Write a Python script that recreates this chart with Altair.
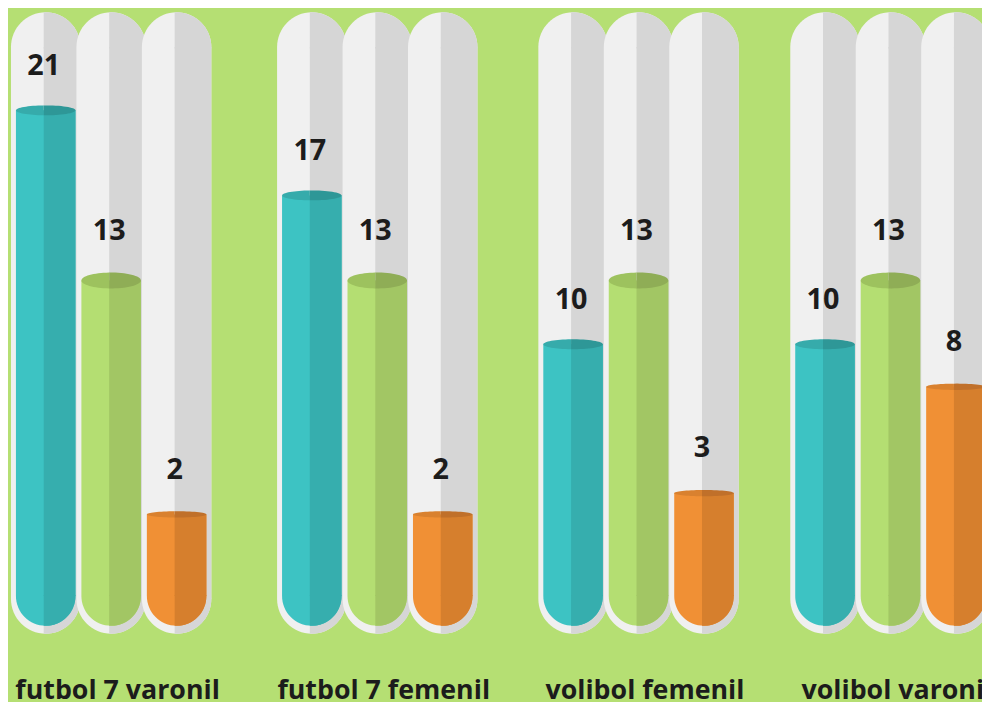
import json
import math

import altair as alt
import pandas as pd

# ---------------- data ----------------
CATEGORIES = ["futbol 7 varonil", "futbol 7 femenil", "volibol femenil", "volibol varonil"]
SERIES_1 = [21, 17, 10, 10]   # teal tubes
SERIES_2 = [13, 13, 13, 13]   # green tubes
SERIES_3 = [2, 2, 3, 8]       # orange tubes
SERIES = [SERIES_1, SERIES_2, SERIES_3]

rows = []
for j, vals in enumerate(SERIES):
    for gi, (cat, v) in enumerate(zip(CATEGORIES, vals)):
        rows.append({"categoria": cat, "gi": gi, "serie": j, "valor": v})
df = pd.DataFrame(rows)

# ---------------- style / layout ----------------
W, H = 982, 694
BG = "#b5df73"
TUBE_L, TUBE_D = "#f0f0f0", "#d6d6d6"
TXT = "#1c1c1c"
FONT = "Open Sans"
COLORS = [
    # light body, dark body, top light, top dark
    ("#3dc3c3", "#36aeae", "#36abab", "#2e9797"),
    ("#b4de72", "#a2c664", "#9dc25e", "#8fad56"),
    ("#f09035", "#d67f2d", "#d9812f", "#c0702a"),
]
TOP_HALF_H = [5.0, 8.0, 3.2]      # half height of the top ellipse, px
LABEL_DY = [-45, -50, -45]

GROUP_PX = [102, 370.3, 633.7, 887.7]
TUBE_STEP = 66
SHIFT = 2
TUBE_R = 35
BAR_R = 30

Y_DOMAIN = [-6.69, 25.68]
TUBE_TOP, TUBE_BOT, BAR_BASE = 25.61, -3.615, -3.242

X_SCALE = alt.Scale(domain=[0, 1, 2, 3], range=GROUP_PX, zero=False, nice=False)
Y_SCALE = alt.Scale(domain=Y_DOMAIN, zero=False, nice=False)
X_AXIS = alt.Axis(
    values=[0, 1, 2, 3],
    labelExpr=json.dumps(CATEGORIES) + "[datum.value]",
    domain=False, ticks=False, tickSize=0, grid=False, title=None,
    labelFont=FONT, labelFontSize=27, labelFontWeight="bold", labelColor=TXT,
    labelBaseline="alphabetic", labelPadding=-0.5, labelOffset=8,
    labelFlush=False, labelOverlap=False, labelBound=False, labelLimit=0,
)


def fmt(pts):
    return "M " + " L ".join(f"{x:.4f} {y:.4f}" for x, y in pts) + " Z"


def cap_top_right(s, n=28):
    a0 = math.acos(s)
    pts = [(s, 0.04)]
    for k in range(n + 1):
        t = a0 - a0 * k / n
        pts.append((math.cos(t), -math.sin(t)))
    pts.append((1, 0.04))
    return fmt(pts)


def cap_bottom_right(s, n=28):
    a0 = math.acos(s)
    pts = [(s, -0.04), (1, -0.04)]
    for k in range(n + 1):
        t = a0 * k / n
        pts.append((math.cos(t), math.sin(t)))
    return fmt(pts)


def ellipse_half(s, b, left, n=32):
    a0 = math.acos(s)
    if left:
        t0, t1 = a0, 2 * math.pi - a0
    else:
        t0, t1 = -a0, a0
    pts = []
    for k in range(n + 1):
        t = t0 + (t1 - t0) * k / n
        pts.append((math.cos(t), b * math.sin(t)))
    return fmt(pts)


TUBE_CAP_TOP = cap_top_right(-SHIFT / TUBE_R)
TUBE_CAP_BOT = cap_bottom_right(-SHIFT / TUBE_R)
BAR_CAP_BOT = cap_bottom_right(-SHIFT / BAR_R)


def layers_for(j):
    off = (j - 1) * TUBE_STEP + SHIFT
    split = (j - 1) * TUBE_STEP
    light, dark, top_l, top_d = COLORS[j]
    b = TOP_HALF_H[j] / BAR_R
    base = alt.Chart(df).transform_filter(alt.datum.serie == j)
    x = alt.X("gi:Q", scale=X_SCALE, axis=X_AXIS)
    x2 = alt.X2("gi")
    yv = alt.Y("valor:Q", scale=Y_SCALE, axis=None)

    def yd(v):
        return alt.YDatum(v, scale=Y_SCALE, axis=None)

    sym = dict(filled=True, opacity=1, strokeWidth=0)
    out = [
        base.mark_rect(color=TUBE_L, cornerRadius=TUBE_R,
                       xOffset=off - TUBE_R, x2Offset=off + TUBE_R)
        .encode(x=x, x2=x2, y=yd(TUBE_TOP), y2=alt.Y2Datum(TUBE_BOT)),
        base.mark_rect(color=TUBE_D, xOffset=split, x2Offset=off + TUBE_R,
                       yOffset=TUBE_R, y2Offset=-TUBE_R)
        .encode(x=x, x2=x2, y=yd(TUBE_TOP), y2=alt.Y2Datum(TUBE_BOT)),
        base.mark_point(shape=TUBE_CAP_TOP, size=(2 * TUBE_R) ** 2, color=TUBE_D,
                        xOffset=off, yOffset=TUBE_R, **sym)
        .encode(x=x, y=yd(TUBE_TOP)),
        base.mark_point(shape=TUBE_CAP_BOT, size=(2 * TUBE_R) ** 2, color=TUBE_D,
                        xOffset=off, yOffset=-TUBE_R, **sym)
        .encode(x=x, y=yd(TUBE_BOT)),
        base.mark_rect(color=light, cornerRadiusBottomLeft=BAR_R,
                       cornerRadiusBottomRight=BAR_R,
                       xOffset=off - BAR_R, x2Offset=off + BAR_R)
        .encode(x=x, x2=x2, y=yv, y2=alt.Y2Datum(BAR_BASE)),
        base.mark_rect(color=dark, xOffset=split, x2Offset=off + BAR_R,
                       y2Offset=-BAR_R)
        .encode(x=x, x2=x2, y=yv, y2=alt.Y2Datum(BAR_BASE)),
        base.mark_point(shape=BAR_CAP_BOT, size=(2 * BAR_R) ** 2, color=dark,
                        xOffset=off, yOffset=-BAR_R, **sym)
        .encode(x=x, y=yd(BAR_BASE)),
        base.mark_point(shape=ellipse_half(-SHIFT / BAR_R, b, True),
                        size=(2 * BAR_R) ** 2, color=top_l, xOffset=off, **sym)
        .encode(x=x, y=yv),
        base.mark_point(shape=ellipse_half(-SHIFT / BAR_R, b, False),
                        size=(2 * BAR_R) ** 2, color=top_d, xOffset=off, **sym)
        .encode(x=x, y=yv),
        base.mark_text(dx=split, dy=LABEL_DY[j], font=FONT, fontSize=29,
                       fontWeight="bold", color=TXT, baseline="middle", align="center")
        .encode(x=x, y=yv, text="valor:Q"),
    ]
    return out


all_layers = []
for j in range(3):
    all_layers += layers_for(j)

chart = (
    alt.layer(*all_layers)
    .properties(width=W, height=H, autosize=alt.AutoSizeParams(type="none"), padding=0)
    .configure(background=BG)
    .configure_view(stroke=None)
)

chart.save("out.html", embed_options={"renderer": "svg", "actions": False})
